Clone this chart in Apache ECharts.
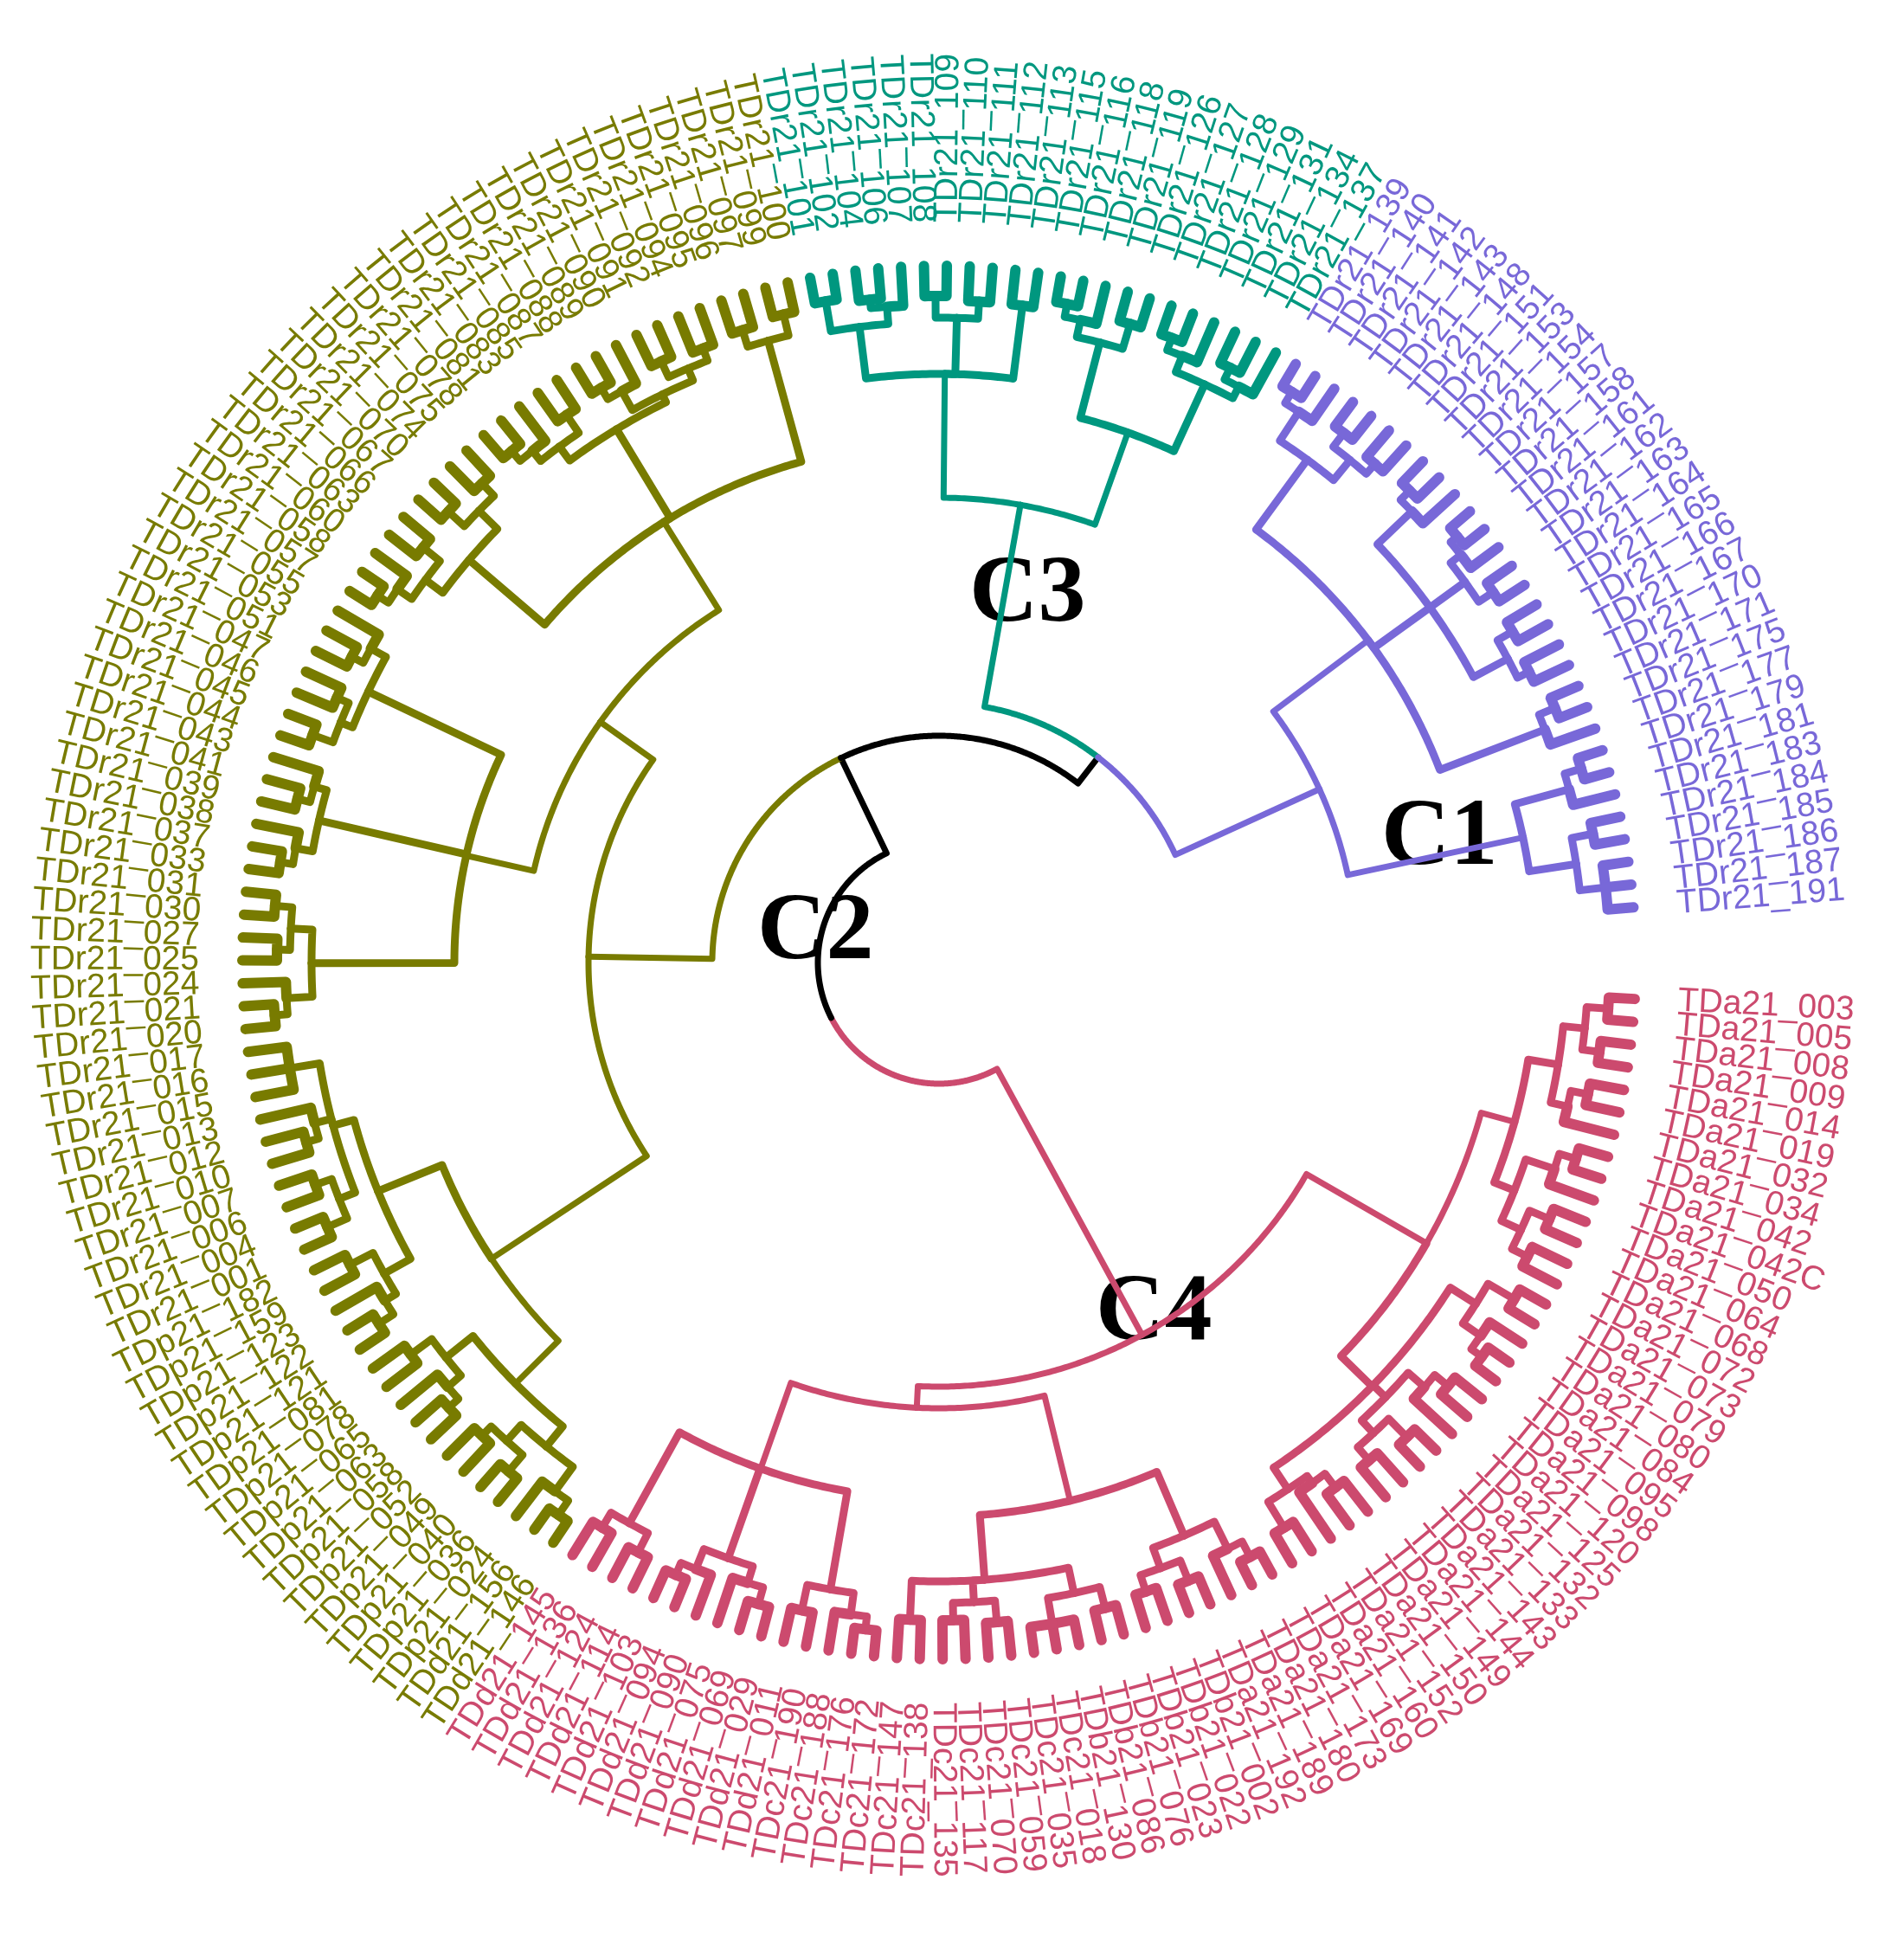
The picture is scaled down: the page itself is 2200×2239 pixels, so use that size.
<!DOCTYPE html>
<html><head><meta charset="utf-8">
<script src="https://cdn.jsdelivr.net/npm/echarts@6/dist/echarts.min.js"></script>
<style>html,body{margin:0;padding:0;background:#fff}#c{width:2200px;height:2239px}</style>
</head><body><div id="c"></div>
<script>
// ---- data ----
const pinkLabels = ['TDa21_003','TDa21_005','TDa21_008','TDa21_009','TDa21_014','TDa21_019','TDa21_032','TDa21_034','TDa21_042','TDa21_042C','TDa21_050','TDa21_064','TDa21_068','TDa21_072','TDa21_073','TDa21_079','TDa21_080','TDa21_084','TDa21_095','TDa21_098','TDa21_120','TDa21_125','TDa21_132','TDa21_133','TDa21_143','TDa21_144','TDa21_149','TDa21_150','TDa21_152','TDa21_160','TDa21_169','TDa21_173','TDa21_180','TDa21_189','TDa21_192',
 'TDb21_002','TDb21_022','TDb21_023','TDb21_076','TDb21_086','TDb21_130',
 'TDc21_018','TDc21_035','TDc21_059','TDc21_070','TDc21_117','TDc21_135','TDc21_138','TDc21_147','TDc21_172','TDc21_176','TDc21_188','TDc21_190',
 'TDd21_011','TDd21_029','TDd21_069','TDd21_075','TDd21_090','TDd21_094','TDd21_103','TDd21_114','TDd21_124','TDd21_136','TDd21_145'];
const oliveLabels = ['TDd21_146','TDd21_156','TDp21_024','TDp21_036','TDp21_040','TDp21_049','TDp21_052','TDp21_058','TDp21_063','TDp21_065','TDp21_078','TDp21_081','TDp21_121','TDp21_122','TDp21_123','TDp21_159','TDp21_182',
 'TDr21_001','TDr21_004','TDr21_006','TDr21_007','TDr21_010','TDr21_012','TDr21_013','TDr21_015','TDr21_016','TDr21_017','TDr21_020','TDr21_021','TDr21_024','TDr21_025','TDr21_027','TDr21_030','TDr21_031','TDr21_033','TDr21_037','TDr21_038','TDr21_039','TDr21_041','TDr21_043','TDr21_044','TDr21_045','TDr21_046','TDr21_047','TDr21_051','TDr21_053','TDr21_055','TDr21_057','TDr21_058','TDr21_060','TDr21_063','TDr21_066','TDr21_067','TDr21_070','TDr21_074','TDr21_075','TDr21_078','TDr21_081','TDr21_083','TDr21_085','TDr21_087','TDr21_088','TDr21_089','TDr21_090','TDr21_091','TDr21_092','TDr21_094','TDr21_095','TDr21_096','TDr21_097','TDr21_099','TDr21_100'];
const tealLabels = ['TDr21_101','TDr21_102','TDr21_104','TDr21_106','TDr21_107','TDr21_108','TDr21_109','TDr21_110','TDr21_111','TDr21_112','TDr21_113','TDr21_115','TDr21_116','TDr21_118','TDr21_119','TDr21_126','TDr21_127','TDr21_128','TDr21_129','TDr21_131','TDr21_134','TDr21_137'];
const purpleLabels = ['TDr21_139','TDr21_140','TDr21_141','TDr21_142','TDr21_143','TDr21_148','TDr21_151','TDr21_153','TDr21_154','TDr21_157','TDr21_158','TDr21_161','TDr21_162','TDr21_163','TDr21_164','TDr21_165','TDr21_166','TDr21_167','TDr21_170','TDr21_171','TDr21_175','TDr21_177','TDr21_179','TDr21_181','TDr21_183','TDr21_184','TDr21_185','TDr21_186','TDr21_187','TDr21_191'];
const clusterNames = ['C4','C2','C3','C1'];
const clusterColors = ['#cc4a6e','#787b00','#00977f','#7868d8','#000000'];
// tree topology: '*' = next leaf, number after ')' = radius of the node
const treeC4 = '((((((*,*)775,(*,*)770)750,((*,*)765,*)745)725,(((*,*)770,*)750,((*,*)765,(*,*)760)740)715)690,(((*,*)770,(*,(*,*)775)760)735,(((*,*)765,*)745,((*,*)770,(*,*)760)740)720,(((*,*)760,*)740,(*,*)765)730)700)650,(((((*,*)775,*)755,((*,*)770,(*,*)765)745)720,(((*,*)770,(*,*,*)775)745,((*,*)765,(*,*)760)740,(*,*)760)715)640,((((*,*)775,*)760,(*,*)765)735,(((*,*)770,*)750,(*,(*,*)770)755)730,((*,*)765,(*,*)760)740)620)515)490';
const treeC2 = '((((((*,*)775,*)755,((*,*)770,(*,*)760)745)720,(((*,*)765,*)750,(*,*)760)730)690,((((*,*)770,*)750,(*,*)765)735,(((*,*)770,(*,*)765)745,((*,*)760,*)745,(*,*,*)760)725)700)620,(((((*,*)770,*)755,((*,*)765,(*,*)770)750)725,(((*,*)770,*)755,((*,*)765,*)750)735,(((*,*)770,(*,*)760)745,((*,*)765,*)750)730)560,(((((*,*)775,*)760,(*,*)765)740,((*,*)770,(*,*)765)745)715,((((*,*)770,*)755,(*,*)765)740,(((*,*)770,*)755,((*,*)765,(*,*)760)745)730)720,((*,*)765,(*,*)770)745)600)480)405';
const treeC3 = '((((*,*)775,((*,*)770,*)760)740,((*,*)770,(*,*)765)745,(*,*)765)680,((((*,*)775,*)760,(*,*)770)740,(((*,*)770,*)755,((*,*)765,*)750)735)650)537';
const treeC1 = '(((((*,*)775,*)760,((*,*)770,(*,*)765)750)720,(((*,*)770,*)755,(((*,*)775,*)765,(*,*)770)750,((*,*)765,(*,*)760)745)700,((*,*)770,*)750)620,(((*,*)775,*)755,((*,*)770,(*,*,*)775)745)690)483';
const rootRadius = 140, nodeARadius = 262, nodeBRadius = 300;
const tipRadius = 805, labelRadius = 855, angleSlots = 191;

// ---- build tree ----
const allLabels = [], leafCluster = [];
[pinkLabels, oliveLabels, tealLabels, purpleLabels].forEach((arr, ci) => arr.forEach(l => { allLabels.push(l); leafCluster.push(ci); }));
let leafCounter = 0;
function parse(str) {
  let i = 0;
  function node() {
    if (str[i] === '*') { i++; const idx = leafCounter++; return { leaf: true, idx, r: tipRadius, a: idx, c: leafCluster[idx] }; }
    i++; const ch = [node()];
    while (str[i] === ',') { i++; ch.push(node()); }
    i++; let num = '';
    while (i < str.length && /[0-9.]/.test(str[i])) num += str[i++];
    return { children: ch, r: +num };
  }
  return node();
}
const c4 = parse(treeC4), c2 = parse(treeC2), c3 = parse(treeC3), c1 = parse(treeC1);
const root = { r: rootRadius, children: [c4, { r: nodeARadius, children: [c2, { r: nodeBRadius, children: [c3, c1] }] }] };
function finish(n) {
  if (n.leaf) return;
  n.children.forEach(finish);
  n.a = n.children.reduce((s, c) => s + c.a, 0) / n.children.length;
  const cs = new Set(n.children.map(c => c.c));
  n.c = cs.size === 1 ? [...cs][0] : 4;
}
finish(root);
const edges = [];
function collect(n) {
  if (n.leaf) return;
  n.children.forEach(ch => {
    const w = ch.leaf ? 12 : (ch.r >= 700 ? 9 : 7);
    edges.push([n.r, n.a, ch.r, ch.a, ch.c, w]);
    collect(ch);
  });
}
collect(root);
const labelData = allLabels.map((l, i) => [labelRadius, i, leafCluster[i], i]);

// ---- chart ----
const chart = echarts.init(document.getElementById('c'), null, { renderer: 'canvas' });
const cx = 1085, cy = 1112;
chart.setOption({
  animation: false,
  backgroundColor: '#ffffff',
  polar: { center: [cx, cy], radius: 1100 },
  angleAxis: { type: 'value', min: 0, max: angleSlots, startAngle: -3, clockwise: true, show: false, splitLine: { show: false } },
  radiusAxis: { type: 'value', min: 0, max: 1100, show: false, splitLine: { show: false } },
  series: [
    {
      type: 'custom', coordinateSystem: 'polar', data: edges, silent: true,
      renderItem: function (params, api) {
        const pr = api.value(0), pa = api.value(1), cr = api.value(2), ca = api.value(3), ci = api.value(4), w = api.value(5);
        const steps = Math.max(1, Math.ceil(Math.abs(ca - pa) / 0.2));
        const pts = [];
        for (let k = 0; k <= steps; k++) pts.push(api.coord([pr, pa + (ca - pa) * k / steps]));
        pts.push(api.coord([cr, ca]));
        return { type: 'polyline', shape: { points: pts }, style: { stroke: clusterColors[ci], lineWidth: w, fill: null, lineCap: 'round', lineJoin: 'round' } };
      }
    },
    {
      type: 'custom', coordinateSystem: 'polar', data: labelData, silent: true,
      renderItem: function (params, api) {
        const p = api.coord([api.value(0), api.value(1)]);
        const idx = api.value(3);
        const th = Math.atan2(-(p[1] - cy), p[0] - cx);
        const right = Math.cos(th) >= 0;
        return {
          type: 'text', x: p[0], y: p[1], rotation: right ? th : th + Math.PI,
          style: { text: allLabels[idx], x: 0, y: 0, fill: clusterColors[api.value(2)], font: '39px "Liberation Sans", Arial, sans-serif', align: right ? 'left' : 'right', verticalAlign: 'middle' }
        };
      }
    }
  ],
  graphic: [
    { type: 'text', left: 1596, top: 915, style: { text: clusterNames[3], font: 'bold 110px "Liberation Serif", serif', fill: '#000' } },
    { type: 'text', left: 875, top: 1024, style: { text: clusterNames[1], font: 'bold 110px "Liberation Serif", serif', fill: '#000' } },
    { type: 'text', left: 1120, top: 634, style: { text: clusterNames[2], font: 'bold 110px "Liberation Serif", serif', fill: '#000' } },
    { type: 'text', left: 1266, top: 1464, style: { text: clusterNames[0], font: 'bold 110px "Liberation Serif", serif', fill: '#000' } }
  ]
});
</script></body></html>
